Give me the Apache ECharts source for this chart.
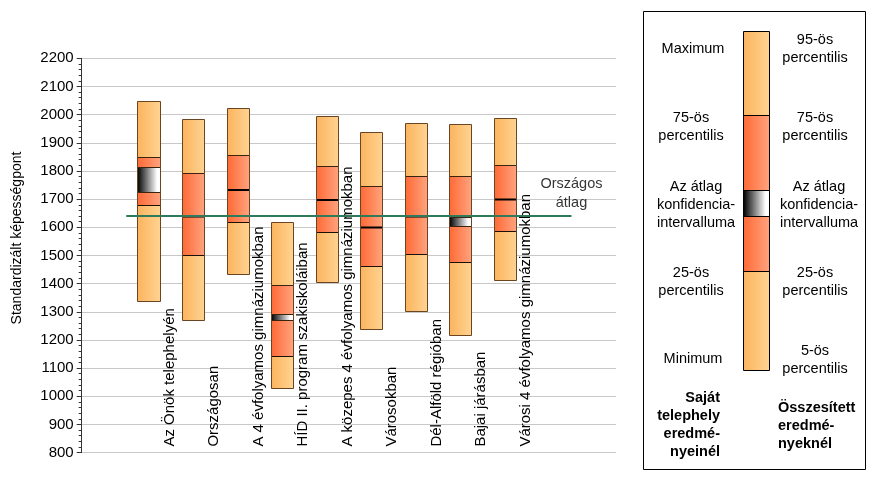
<!DOCTYPE html>
<html>
<head>
<meta charset="utf-8">
<script src="https://cdn.jsdelivr.net/npm/echarts@6/dist/echarts.min.js"></script>
<style>
html,body{margin:0;padding:0;background:#fff;}
#chart{width:873px;height:480px;}
</style>
</head>
<body>
<div id="chart"></div>
<script>
// ---- data ----
const categories = ['Az Önök telephelyén','Országosan','A 4 évfolyamos gimnáziumokban','HÍD II. program szakiskoláiban','A közepes 4 évfolyamos gimnáziumokban','Városokban','Dél-Alföld régióban','Bajai járásban','Városi 4 évfolyamos gimnáziumokban'];
const minVals = [1337,1270,1433,1028,1406,1240,1302,1217,1413];
const p25Vals = [1678,1501,1618,1142,1582,1462,1506,1476,1586];
const p75Vals = [1851,1792,1856,1396,1817,1746,1781,1781,1820];
const maxVals = [2047,1986,2022,1620,1994,1939,1969,1966,1987];
const ciLow   = [1726,1639,1733,1270,1697,1600,1639,1606,1699];
const ciHigh  = [1815,1641,1735,1291,1701,1602,1641,1636,1701];
const nationalAvg = 1640;
const yTicks = {min: 800, max: 2200, step: 100};
const yTitle = 'Standardizált képességpont';

const FONT = "'Liberation Sans', Arial, sans-serif";
const G = echarts.graphic;
const lightGrad = () => new G.LinearGradient(0,0,1,0,[{offset:0,color:'#FBB45E'},{offset:1,color:'#FFD392'}]);
const darkGrad  = () => new G.LinearGradient(0,0,1,0,[{offset:0,color:'#FF6A36'},{offset:1,color:'#FFA37E'}]);
const ciGrad    = () => new G.LinearGradient(0,0,1,0,[{offset:0,color:'#000000'},{offset:0.85,color:'#FFFFFF'},{offset:1,color:'#FFFFFF'}]);

const boxData = categories.map((c,i)=>[i, minVals[i], p25Vals[i], p75Vals[i], maxVals[i], ciLow[i], ciHigh[i]]);

function renderItem(params, api){
  const i = api.value(0);
  const xc = i + 1.5;
  const cx = api.coord([xc, 0])[0];
  const w = api.size([0.495, 0])[0];
  const y = v => Math.round(api.coord([xc, v])[1]) + 0.5;
  const yMin = y(api.value(1)), y25 = y(api.value(2)), y75 = y(api.value(3)), yMax = y(api.value(4));
  const yCl = y(api.value(5)), yCh = y(api.value(6));
  const x0 = Math.round(cx - w/2) + 0.5, x1 = Math.round(cx + w/2) + 0.5;
  const ww = x1 - x0;
  const ch = [];
  ch.push({type:'rect', shape:{x:x0, y:yMax, width:ww, height:yMin-yMax}, style:{fill:lightGrad()}});
  ch.push({type:'rect', shape:{x:x0, y:y75, width:ww, height:y25-y75}, style:{fill:darkGrad()}});
  if (yCl - yCh >= 3) {
    ch.push({type:'rect', shape:{x:x0, y:yCh, width:ww, height:yCl-yCh}, style:{fill:ciGrad()}});
    ch.push({type:'line', shape:{x1:x0, y1:yCh, x2:x1, y2:yCh}, style:{stroke:'#3a2410', lineWidth:1}});
    ch.push({type:'line', shape:{x1:x0, y1:yCl, x2:x1, y2:yCl}, style:{stroke:'#3a2410', lineWidth:1}});
  } else {
    const ym = (yCl + yCh) / 2;
    ch.push({type:'line', shape:{x1:x0, y1:ym, x2:x1, y2:ym}, style:{stroke:'#000', lineWidth:2}});
  }
  ch.push({type:'line', shape:{x1:x0, y1:y75, x2:x1, y2:y75}, style:{stroke:'#3a2410', lineWidth:1}});
  ch.push({type:'line', shape:{x1:x0, y1:y25, x2:x1, y2:y25}, style:{stroke:'#1a1008', lineWidth:1}});
  ch.push({type:'rect', shape:{x:x0, y:yMax, width:ww, height:yMin-yMax}, style:{fill:null, stroke:'#6a4522', lineWidth:1}});
  const yb = api.coord([xc, yTicks.min])[1] - 6;
  ch.push({type:'text', x: cx + 21, y: yb, rotation: Math.PI/2,
    style:{text: categories[i], x:0, y:0, fill:'#000', font:'15px ' + FONT, align:'left', verticalAlign:'middle'}});
  return {type:'group', children: ch};
}

const chart = echarts.init(document.getElementById('chart'), null, {renderer:'canvas'});

// legend panel (decoration)
const legBarX = 743.5, legBarW = 26;
const legY = {max:31.5, p75:115.5, ciTop:190.5, ciBot:216.5, p25:271.5, min:370.5};
const legendGraphics = [
  {type:'rect', shape:{x:643.5, y:11.5, width:222, height:458}, style:{fill:'#fff', stroke:'#000', lineWidth:1}},
  {type:'rect', shape:{x:legBarX, y:legY.max, width:legBarW, height:legY.min-legY.max}, style:{fill:lightGrad()}},
  {type:'rect', shape:{x:legBarX, y:legY.p75, width:legBarW, height:legY.p25-legY.p75}, style:{fill:darkGrad()}},
  {type:'rect', shape:{x:legBarX, y:legY.ciTop, width:legBarW, height:legY.ciBot-legY.ciTop}, style:{fill:ciGrad()}},
  {type:'line', shape:{x1:legBarX, y1:legY.p75, x2:legBarX+legBarW, y2:legY.p75}, style:{stroke:'#000', lineWidth:1}},
  {type:'line', shape:{x1:legBarX, y1:legY.ciTop, x2:legBarX+legBarW, y2:legY.ciTop}, style:{stroke:'#000', lineWidth:1}},
  {type:'line', shape:{x1:legBarX, y1:legY.ciBot, x2:legBarX+legBarW, y2:legY.ciBot}, style:{stroke:'#000', lineWidth:1}},
  {type:'line', shape:{x1:legBarX, y1:legY.p25, x2:legBarX+legBarW, y2:legY.p25}, style:{stroke:'#000', lineWidth:1}},
  {type:'rect', shape:{x:legBarX, y:legY.max, width:legBarW, height:legY.min-legY.max}, style:{fill:null, stroke:'#000', lineWidth:1}},
  {type:'text', x:17, y:238, rotation:Math.PI/2,
    style:{text:yTitle, fill:'#000', font:'14px ' + FONT, align:'center', verticalAlign:'middle'}}
];
const legTexts = [
  ['Maximum', 693, 49, 'center', false],
  ['75-ös\npercentilis', 691, 127, 'center', false],
  ['Az átlag\nkonfidencia-\nintervalluma', 696, 205, 'center', false],
  ['25-ös\npercentilis', 691, 282, 'center', false],
  ['Minimum', 693, 359, 'center', false],
  ['Saját\ntelephely\neredmé-\nnyeinél', 720, 425, 'right', true],
  ['95-ös\npercentilis', 815, 49, 'center', false],
  ['75-ös\npercentilis', 815, 127, 'center', false],
  ['Az átlag\nkonfidencia-\nintervalluma', 819, 205, 'center', false],
  ['25-ös\npercentilis', 815, 282, 'center', false],
  ['5-ös\npercentilis', 815, 360, 'center', false],
  ['Összesített\neredmé-\nnyeknél', 778, 426, 'left', true]
];
legTexts.forEach(t => legendGraphics.push({type:'text', x:t[1], y:t[2],
  style:{text:t[0], fill:'#000', font:(t[4]?'bold ':'') + '14.5px ' + FONT, lineHeight:18, align:t[3], verticalAlign:'middle'}}));

chart.setOption({
  animation:false,
  backgroundColor:'#fff',
  grid:{left:81.7, right:257, top:58.3, bottom:27.4, containLabel:false},
  xAxis:{type:'value', min:0, max:12, show:false, splitLine:{show:false}},
  yAxis:{type:'value', min:yTicks.min, max:yTicks.max, interval:yTicks.step,
    axisLine:{show:true, lineStyle:{color:'#333', width:1}},
    axisTick:{show:true, inside:false, length:5, lineStyle:{color:'#333'}},
    minorTick:{show:true, splitNumber:5, length:3, lineStyle:{color:'#333'}},
    axisLabel:{fontFamily:FONT, fontSize:15, color:'#000', margin:8, formatter: v => String(v)},
    splitLine:{show:true, lineStyle:{color:'#C8C8C8', width:1}}
  },
  graphic: legendGraphics,
  series:[
    {type:'custom', renderItem:renderItem, data:boxData, encode:{x:0, y:[1,2,3,4]}, z:2},
    {type:'line', data:[[1,nationalAvg],[11,nationalAvg]], symbol:'none', lineStyle:{color:'#2E7A5A', width:2}, z:5, silent:true},
    {type:'scatter', data:[[11,nationalAvg]], symbolSize:0, z:6,
      label:{show:true, position:'top', distance:4, formatter:'Országos\nátlag', fontFamily:FONT, fontSize:14.5, lineHeight:19, color:'#000', align:'center'}}
  ]
});
</script>
</body>
</html>
